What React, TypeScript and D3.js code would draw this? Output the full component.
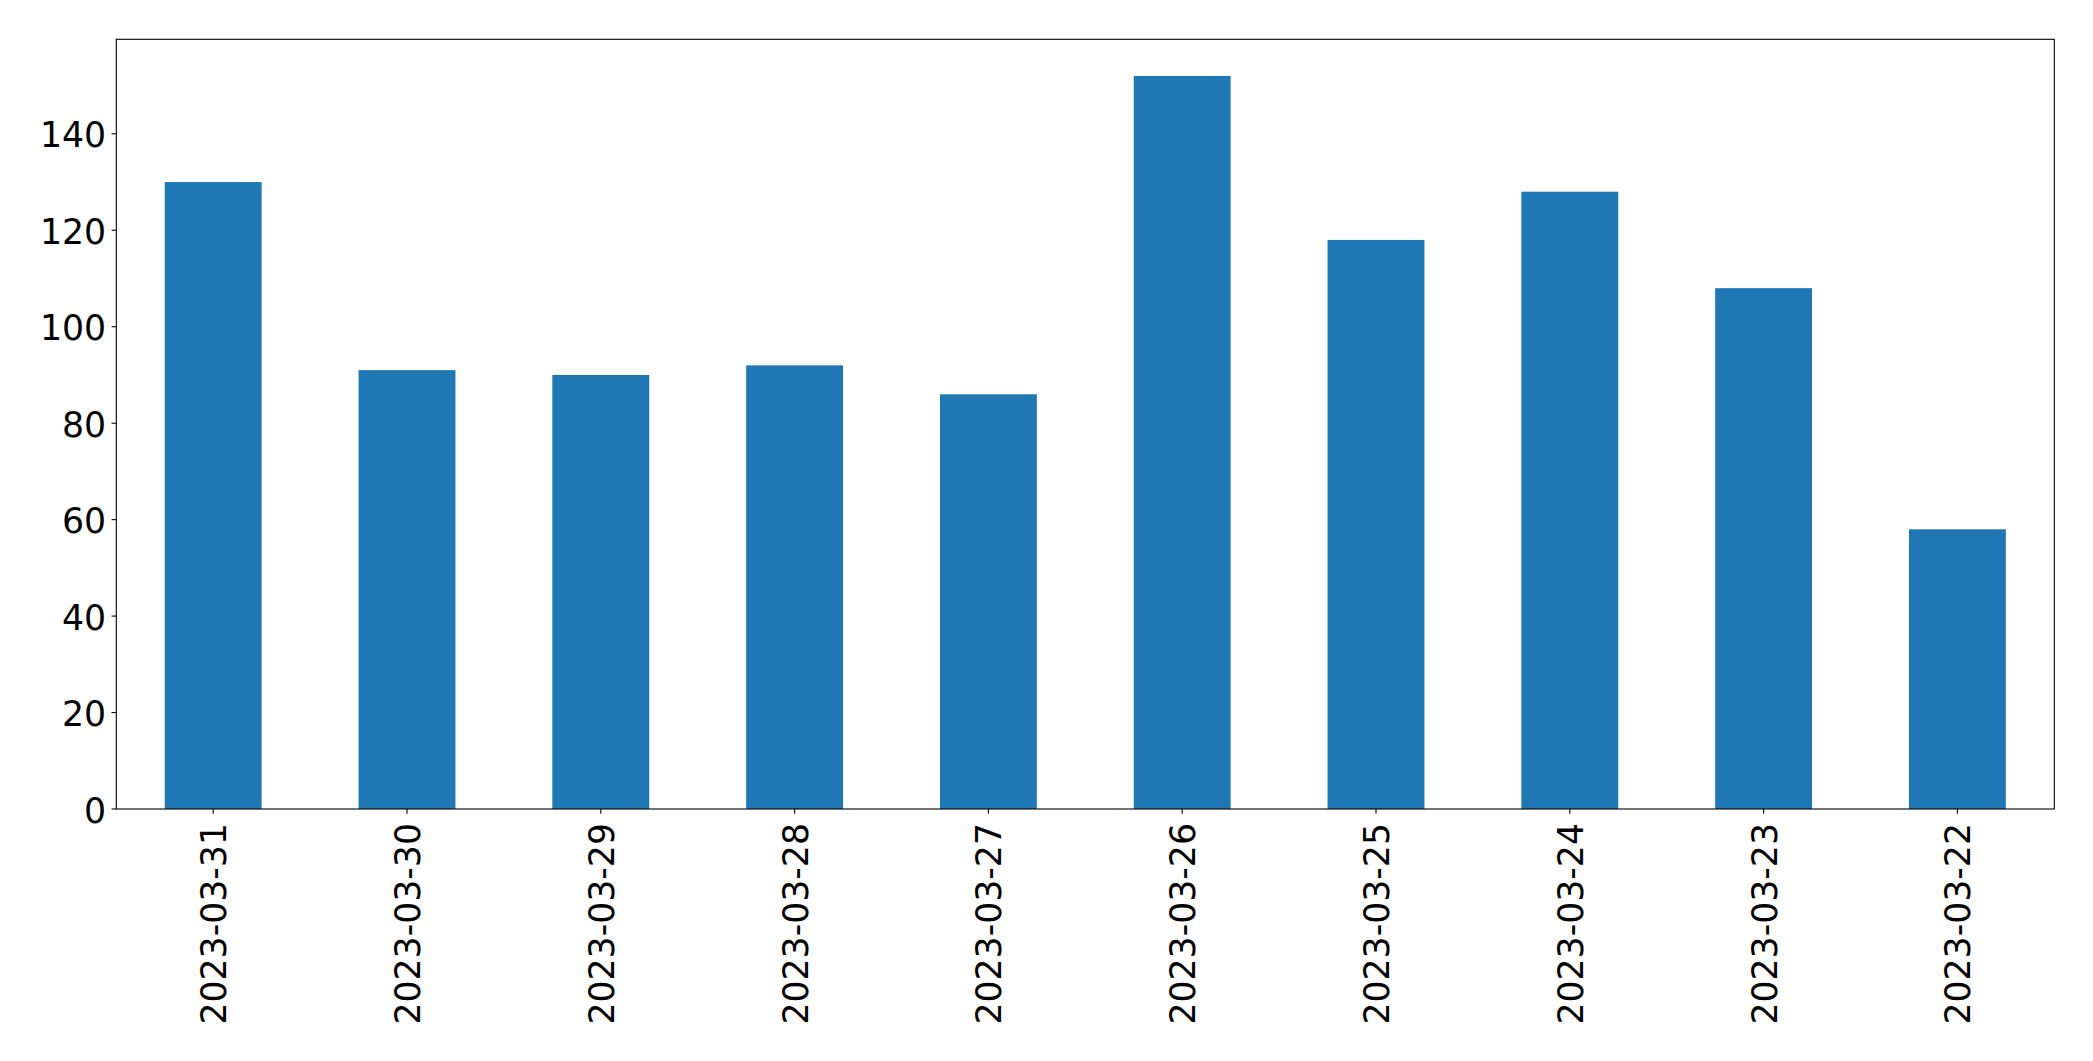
import React, { useEffect, useRef } from 'react';
import * as d3 from 'd3';

const dates = [
  '2023-03-31', '2023-03-30', '2023-03-29', '2023-03-28', '2023-03-27',
  '2023-03-26', '2023-03-25', '2023-03-24', '2023-03-23', '2023-03-22',
];
const counts = [130, 91, 90, 92, 86, 152, 118, 128, 108, 58];
const yTicks = [0, 20, 40, 60, 80, 100, 120, 140];

const App: React.FC = () => {
  const svgRef = useRef<SVGSVGElement>(null);

  useEffect(() => {
    if (!svgRef.current) return;

    const svg = d3.select(svgRef.current);
    svg.selectAll("*").remove();

    const width = 2093;
    const height = 1061;
    const margin = { top: 39.3, right: 38.7, bottom: 252, left: 116.3 };
    const fontSize = 34.7;
    const tickLen = 4.7;
    const font = "'DejaVu Sans', sans-serif";

    const x = d3.scaleBand<string>()
      .domain(dates)
      .range([margin.left, width - margin.right])
      .paddingInner(0.5)
      .paddingOuter(0.25);

    const yMax = d3.max(counts)! * 1.05;
    const y = d3.scaleLinear().domain([0, yMax]).range([height - margin.bottom, margin.top]);

    svg.append("rect")
      .attr("width", width)
      .attr("height", height)
      .attr("fill", "#fff");

    // Bars
    svg.selectAll(".bar")
      .data(counts)
      .enter().append("rect")
      .attr("x", (_, i) => x(dates[i])!)
      .attr("y", d => y(d))
      .attr("width", x.bandwidth())
      .attr("height", d => y(0) - y(d))
      .attr("fill", "#1f77b4");

    // Frame
    svg.append("rect")
      .attr("x", margin.left)
      .attr("y", margin.top)
      .attr("width", width - margin.left - margin.right)
      .attr("height", height - margin.top - margin.bottom)
      .attr("fill", "none")
      .attr("stroke", "#000")
      .attr("stroke-width", 1.1);

    // Y ticks
    const yg = svg.append("g");
    yTicks.forEach(t => {
      yg.append("line")
        .attr("x1", margin.left - tickLen).attr("x2", margin.left)
        .attr("y1", y(t)).attr("y2", y(t))
        .attr("stroke", "#000").attr("stroke-width", 1.1);
      yg.append("text")
        .attr("x", margin.left - tickLen - 5.5)
        .attr("y", y(t) + 13.5)
        .attr("text-anchor", "end")
        .attr("font-family", font)
        .attr("font-size", fontSize)
        .attr("fill", "#000")
        .text(t);
    });

    // X ticks
    const xg = svg.append("g");
    dates.forEach(d => {
      const cx = x(d)! + x.bandwidth() / 2;
      const y0 = height - margin.bottom;
      xg.append("line")
        .attr("x1", cx).attr("x2", cx)
        .attr("y1", y0).attr("y2", y0 + tickLen)
        .attr("stroke", "#000").attr("stroke-width", 1.1);
      xg.append("text")
        .attr("transform", `translate(${cx + 13},${y0 + 14}) rotate(-90)`)
        .attr("text-anchor", "end")
        .attr("font-family", font)
        .attr("font-size", fontSize)
        .attr("fill", "#000")
        .text(d);
    });
  }, []);

  return (
    <svg
      ref={svgRef}
      width={2093}
      height={1061}
      style={{ position: 'absolute', left: 0, top: 0, display: 'block' }}
    />
  );
};

export default App;
